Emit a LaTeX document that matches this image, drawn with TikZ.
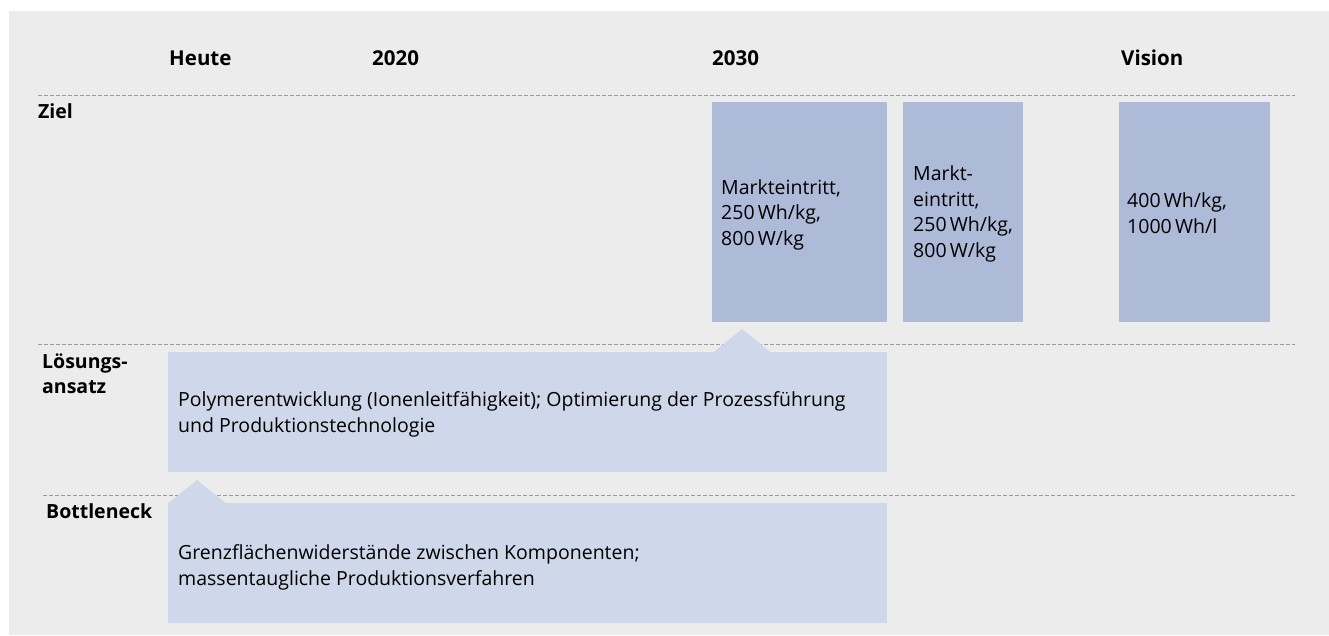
\documentclass[tikz,border=0pt]{standalone}
\usepackage{fontspec}
\setmainfont{Open Sans}
\definecolor{bg}{HTML}{ECECEC}
\definecolor{darkblue}{HTML}{ADBBD9}
\definecolor{lightblue}{HTML}{CFD8EA}
\definecolor{dashgrey}{HTML}{9A9A9A}
\begin{document}
\begin{tikzpicture}[x=1pt,y=-1pt,
  hdr/.style={font=\bfseries\fontsize{20.5}{24}\selectfont, anchor=base west, inner sep=0},
  lbl/.style={font=\bfseries\fontsize{19.5}{25}\selectfont, anchor=base west, inner sep=0, align=left},
  txt/.style={font=\fontsize{19.5}{25.5}\selectfont, anchor=base west, inner sep=0, align=left},
  sep/.style={draw=dashgrey, line width=1pt, dash pattern=on 4pt off 2pt},
  darkbox/.style={fill=darkblue, draw=none},
  lightbox/.style={fill=lightblue, draw=none}]
\useasboundingbox (0,0) rectangle (1329,635);
\fill[bg] (9,11) rectangle (1329,635);
% headers
\node[hdr] (heute) at (169,65) {Heute};
\node[hdr] (y2020) at (372,65) {2020};
\node[hdr] (y2030) at (712,65) {2030};
\node[hdr] (vision) at (1121,65) {Vision};
% separators
\draw[sep] (38,95) -- (1295,95);
\draw[sep] (38,344) -- (1295,344);
\draw[sep] (43,495) -- (1295,495);
% row labels (anchor = baseline of last line)
\node[lbl] (ziel) at (38,118) {Ziel};
\node[lbl] (loes) at (42,393) {Lösungs-\\ansatz};
\node[lbl] (bott) at (46,518) {Bottleneck};
% Ziel boxes
\fill[darkbox] (712,102) rectangle (887,322);
\fill[darkbox] (903,102) rectangle (1023,322);
\fill[darkbox] (1119,102) rectangle (1270,322);
\node[txt] (z1) at (721,245) {Markteintritt,\\250\,Wh/kg,\\800\,W/kg};
\node[txt] (z2) at (913,257) {Markt-\\eintritt,\\250\,Wh/kg,\\800\,W/kg};
\node[txt] (z3) at (1127,233) {400\,Wh/kg,\\1000\,Wh/l};
% Lösungsansatz box
\fill[lightbox] (168,352) rectangle (887,472);
\fill[lightbox] (713,352.5) -- (742,329) -- (771,352.5) -- cycle;
\node[txt] (l1) at (178,432) {Polymerentwicklung (Ionenleitfähigkeit); Optimierung der Prozessführung\\und Produktionstechnologie};
% Bottleneck box
\fill[lightbox] (168,503) rectangle (887,623);
\fill[lightbox] (168,503.5) -- (197,480) -- (226,503.5) -- cycle;
\node[txt] (b1) at (178,585) {Grenzflächenwiderstände zwischen Komponenten;\\massentaugliche Produktionsverfahren};
\end{tikzpicture}
\end{document}
